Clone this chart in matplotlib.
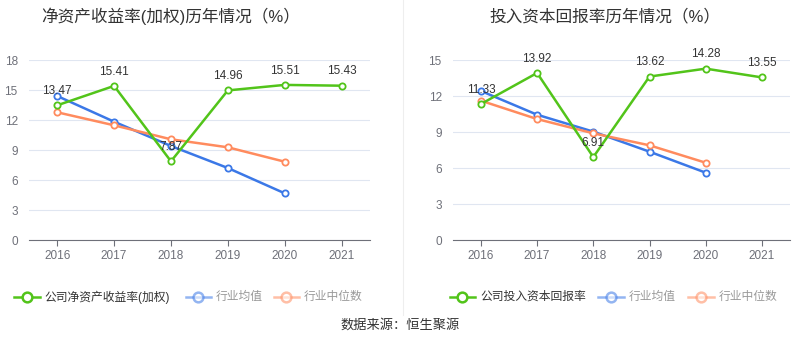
import matplotlib.pyplot as plt
from matplotlib.lines import Line2D

plt.rcParams['font.family'] = ['Liberation Sans', 'Noto Sans CJK SC', 'DejaVu Sans']

years = ['2016', '2017', '2018', '2019', '2020', '2021']

# ROE (weighted)
roe_company = [13.47, 15.41, 7.87, 14.96, 15.51, 15.43]
roe_ind_mean = [14.40, 11.83, 9.40, 7.20, 4.67]
roe_ind_median = [12.77, 11.47, 10.07, 9.27, 7.83]

# ROIC
roic_company = [11.33, 13.92, 6.91, 13.62, 14.28, 13.55]
roic_ind_mean = [12.42, 10.44, 9.03, 7.36, 5.61]
roic_ind_median = [11.61, 10.08, 8.89, 7.89, 6.44]

GREEN = '#52c41a'
BLUE = '#3b78e7'
ORANGE = '#ff8b5e'

fig = plt.figure(figsize=(8, 3.58), dpi=100)


def draw(ax, comp, mean, median, ymax, step, title, cx):
    x = list(range(len(years)))
    for i in range(0, ymax + 1, step):
        ax.axhline(i, color='#e0e6f1', lw=0.8, zorder=0)
    ax.plot(x[:len(mean)], mean, color=BLUE, lw=1.8, marker='o', ms=4.5,
            mfc='white', mec=BLUE, mew=1.3, zorder=3)
    ax.plot(x[:len(median)], median, color=ORANGE, lw=1.8, marker='o', ms=4.5,
            mfc='white', mec=ORANGE, mew=1.3, zorder=3)
    ax.plot(x, comp, color=GREEN, lw=1.8, marker='o', ms=4.5,
            mfc='white', mec=GREEN, mew=1.3, zorder=4)
    for xi, v in zip(x, comp):
        ax.annotate(f'{v:.2f}', (xi, v), xytext=(0, 6), textcoords='offset points',
                    ha='center', va='bottom', fontsize=8.5, color='#333333', zorder=5)
    ax.set_xlim(-0.5, len(years) - 0.5)
    ax.set_ylim(0, ymax)
    ax.set_xticks(x)
    ax.set_xticklabels(years)
    ax.set_yticks(range(0, ymax + 1, step))
    for s in ['top', 'right', 'left']:
        ax.spines[s].set_visible(False)
    ax.spines['bottom'].set_color('#6e7079')
    ax.tick_params(axis='x', colors='#6e7079', labelcolor='#6e7079', labelsize=8.5, length=4, pad=3)
    ax.tick_params(axis='y', length=0, labelcolor='#6e7079', labelsize=8.5, pad=8)
    ax.patch.set_alpha(0)
    fig.text(cx, 0.955, title, ha='center', va='center', fontsize=12, color='#333333')


ax1 = fig.add_axes([0.036, 0.3296, 0.4265, 0.5028])
draw(ax1, roe_company, roe_ind_mean, roe_ind_median, 18, 3,
     '净资产收益率(加权)历年情况（%）', 0.213)

ax2 = fig.add_axes([0.566, 0.3296, 0.4215, 0.5028])
draw(ax2, roic_company, roic_ind_mean, roic_ind_median, 15, 3,
     '投入资本回报率历年情况（%）', 0.756)

# divider
fig.add_artist(Line2D([0.504, 0.504], [0.12, 1.0], color='#eeeeee', lw=0.8))


def legend_item(x, label, color, alpha, tcolor):
    y = 1 - 297 / 358
    fig.add_artist(Line2D([x, x + 0.032], [y, y], color=color, lw=1.8, alpha=alpha))
    fig.add_artist(Line2D([x + 0.016], [y], color=color, marker='o', ms=7,
                          mfc='white', mec=color, mew=1.8, alpha=alpha))
    fig.text(x + 0.038, y, label, ha='left', va='center', fontsize=8.5, color=tcolor)


legend_item(0.018, '公司净资产收益率(加权)', GREEN, 1.0, '#333333')
legend_item(0.232, '行业均值', BLUE, 0.55, '#999999')
legend_item(0.342, '行业中位数', ORANGE, 0.55, '#999999')
legend_item(0.562, '公司投入资本回报率', GREEN, 1.0, '#333333')
legend_item(0.748, '行业均值', BLUE, 0.55, '#999999')
legend_item(0.860, '行业中位数', ORANGE, 0.55, '#999999')

fig.text(0.5, 1 - 325 / 358, '数据来源：恒生聚源', ha='center', va='center',
         fontsize=9.5, color='#333333')

fig.savefig('out.png', dpi=100)
